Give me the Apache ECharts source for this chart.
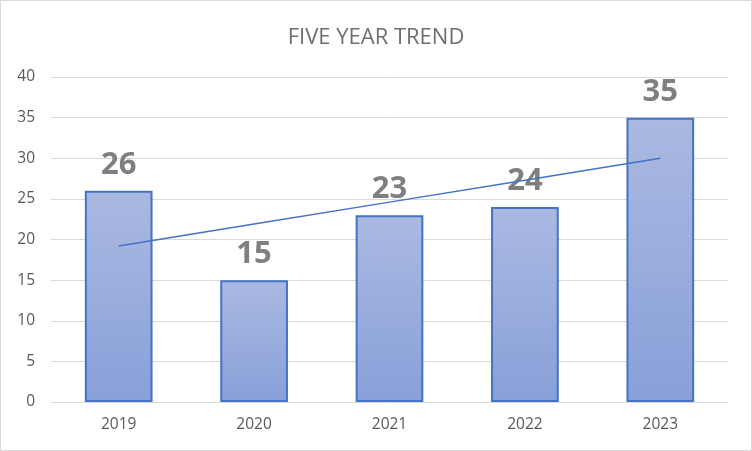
<!DOCTYPE html>
<html><head><meta charset="utf-8">
<script src="https://cdn.jsdelivr.net/npm/echarts@6/dist/echarts.min.js"></script>
<style>html,body{margin:0;padding:0;background:#fff}#c{width:752px;height:451px;box-sizing:border-box;border:1px solid #d9d9d9}</style>
</head><body><div id="c"></div>
<script>
const categories = ['2019','2020','2021','2022','2023'];
const values = [26, 15, 23, 24, 35];
const trendValues = [19.2, 21.9, 24.6, 27.3, 30.0];
const yTicks = [0, 5, 10, 15, 20, 25, 30, 35, 40];

const FONT = 'Open Sans, Noto Sans, sans-serif';
const chart = echarts.init(document.getElementById('c'), null, {renderer:'canvas'});
chart.setOption({
  animation:false,
  title:{text:'FIVE YEAR TREND', left:'center', top:21,
    textStyle:{fontFamily:FONT, fontSize:22, fontWeight:'normal', color:'#6e6e6e'}},
  grid:{left:50, right:23, top:76, bottom:48},
  xAxis:{type:'category', data:categories,
    axisLine:{lineStyle:{color:'#d9d9d9', width:1}}, axisTick:{show:false},
    axisLabel:{color:'#595959', fontSize:15.5, fontFamily:FONT, margin:15}},
  yAxis:{type:'value', min:yTicks[0], max:yTicks[yTicks.length-1], interval:5,
    axisLine:{show:false}, axisTick:{show:false},
    axisLabel:{color:'#595959', fontSize:15.5, fontFamily:FONT, margin:16},
    splitLine:{lineStyle:{color:'#d9d9d9', width:1}}},
  series:[
    {type:'bar', data:values, barWidth:'50%',
      itemStyle:{borderColor:'#4472c4', borderWidth:2,
        color:new echarts.graphic.LinearGradient(0,0,0,1,[{offset:0,color:'#aab9e1'},{offset:1,color:'#88a0d9'}])},
      label:{show:true, position:'top', distance:10, color:'#7f7f7f', fontSize:31, fontWeight:'bold',
        fontFamily:FONT}},
    {type:'line', data:trendValues, symbol:'none', z:5,
      lineStyle:{color:'#4472c4', width:1.5}}
  ]
});
</script></body></html>
